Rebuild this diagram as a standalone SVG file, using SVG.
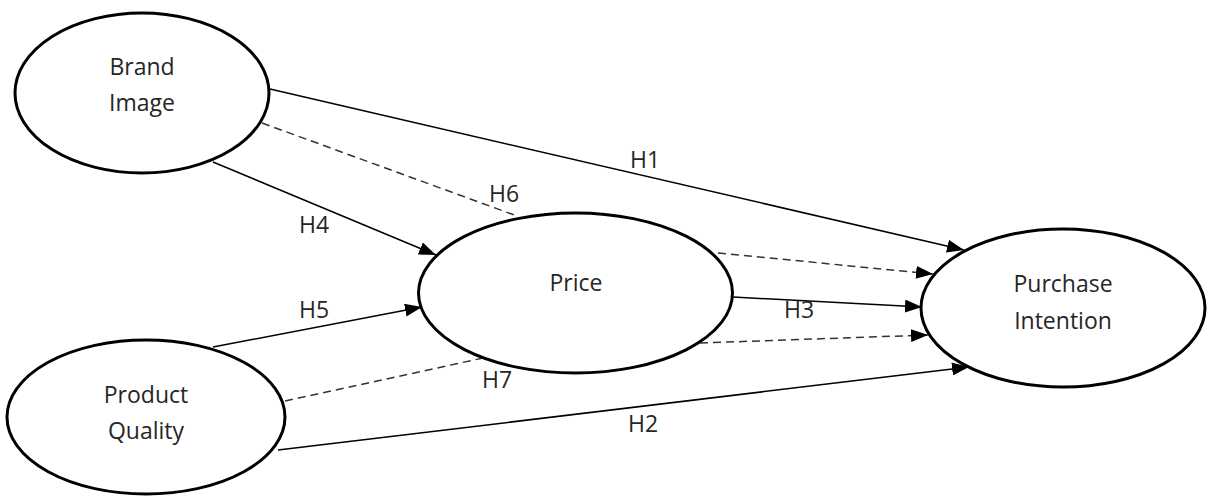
<svg xmlns="http://www.w3.org/2000/svg" width="1212" height="496" viewBox="0 0 1212 496">
  <style>
    .node { fill: #ffffff; stroke: #000000; stroke-width: 3; }
    .label { font-family: "Open Sans", "Liberation Sans", sans-serif; font-size: 23px; fill: #262626; text-anchor: middle; }
    .edge { fill: none; stroke: #000000; stroke-width: 1.5; }
    .dashed { stroke: #333333; stroke-dasharray: 8 5; }
    .arrow { marker-end: url(#head); }
  </style>
  <defs>
    <marker id="head" markerUnits="userSpaceOnUse" markerWidth="17" markerHeight="13" refX="17" refY="6.5" orient="auto">
      <path d="M0,0 L17,6.5 L0,13 z" fill="#000000"/>
    </marker>
  </defs>
  <rect width="1212" height="496" fill="#ffffff"/>

  <!-- connectors -->
  <g id="connectors">
    <line class="edge arrow" x1="270" y1="89" x2="964" y2="250"/>
    <line class="edge dashed" x1="262" y1="123" x2="517" y2="216"/>
    <line class="edge arrow" x1="213" y1="162" x2="436" y2="255"/>
    <line class="edge arrow" x1="213" y1="347" x2="422" y2="307"/>
    <line class="edge dashed" x1="285" y1="401" x2="483" y2="358"/>
    <line class="edge arrow" x1="278" y1="450" x2="969" y2="367"/>
    <line class="edge dashed arrow" x1="718" y1="253" x2="933" y2="274"/>
    <line class="edge arrow" x1="733" y1="297" x2="922" y2="307"/>
    <line class="edge dashed arrow" x1="700" y1="343" x2="928" y2="335"/>

    <text class="label" x="645" y="168">H1</text>
    <text class="label" x="504" y="202">H6</text>
    <text class="label" x="314" y="233">H4</text>
    <text class="label" x="314" y="318">H5</text>
    <text class="label" x="497" y="388">H7</text>
    <text class="label" x="799" y="318">H3</text>
    <text class="label" x="643" y="432">H2</text>
  </g>

  <!-- nodes -->
  <g id="brand-image">
    <ellipse class="node" cx="142" cy="93" rx="127" ry="80"/>
    <text class="label" x="142" y="75">Brand</text>
    <text class="label" x="142" y="111">Image</text>
  </g>
  <g id="price">
    <ellipse class="node" cx="575.5" cy="293" rx="157" ry="80"/>
    <text class="label" x="576" y="291">Price</text>
  </g>
  <g id="purchase-intention">
    <ellipse class="node" cx="1063" cy="308" rx="142" ry="79"/>
    <text class="label" x="1063" y="292">Purchase</text>
    <text class="label" x="1063" y="329">Intention</text>
  </g>
  <g id="product-quality">
    <ellipse class="node" cx="146" cy="417" rx="139" ry="77"/>
    <text class="label" x="146" y="403">Product</text>
    <text class="label" x="146" y="439">Quality</text>
  </g>
</svg>
